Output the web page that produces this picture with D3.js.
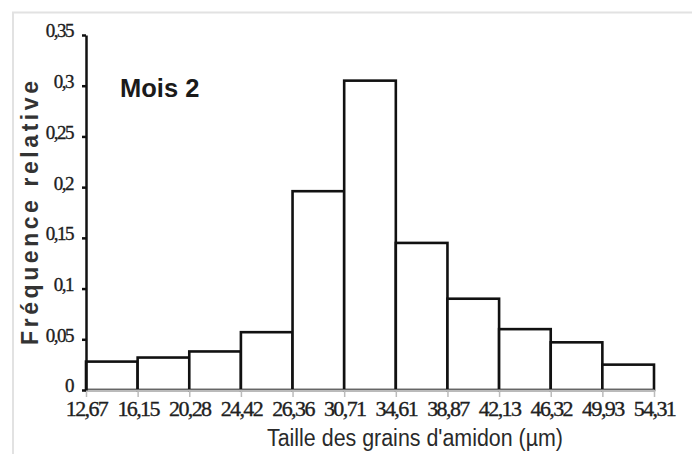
<!DOCTYPE html>
<html>
<head>
<meta charset="utf-8">
<script src="https://cdnjs.cloudflare.com/ajax/libs/d3/7.8.5/d3.min.js"></script>
<style>
  body { margin: 0; background: #fff; }
  .tick text { font-family: "Liberation Serif", "DejaVu Serif", serif; fill: #222; }
</style>
</head>
<body>
<script>
// bin edges (µm) and relative frequency of each bin
const edges = ["12,67", "16,15", "20,28", "24,42", "26,36", "30,71", "34,61", "38,87", "42,13", "46,32", "49,93", "54,31"];
const freq = [0.028, 0.032, 0.038, 0.057, 0.196, 0.305, 0.145, 0.090, 0.060, 0.047, 0.025];
const yTicks = [0, 0.05, 0.1, 0.15, 0.2, 0.25, 0.3, 0.35];

const W = 692, H = 454,
      margin = {top: 35, right: 38, bottom: 64, left: 86},
      width = W - margin.left - margin.right,
      height = H - margin.top - margin.bottom,

      fr = d3.formatLocale({decimal: ",", thousands: " ", grouping: [3], currency: ["", "€"]}),

      svg = d3.select("body")
      .append("svg")
      .attr("width", W)
      .attr("height", H),

      xScale = d3.scaleLinear().domain([0, edges.length - 1]).range([margin.left, margin.left + width]),
      yScale = d3.scaleLinear().domain([0, 0.35]).range([margin.top + height, margin.top]);

// faint frame of the original picture
svg.append("path")
  .attr("d", "M13,454V12.5H692")
  .attr("fill", "none")
  .attr("stroke", "#e2e2e2")
  .attr("stroke-width", 2);

svg.selectAll("rect.bar")
  .data(freq).enter()
  .append("rect")
  .attr("class", "bar")
  .attr("x", (d, i) => xScale(i))
  .attr("y", (d) => yScale(d))
  .attr("width", (d, i) => xScale(i + 1) - xScale(i))
  .attr("height", (d) => yScale(0) - yScale(d))
  .attr("fill", "#fff")
  .attr("stroke", "#111")
  .attr("stroke-width", 2.6);

const xAxis = d3.axisBottom(xScale)
  .tickValues(d3.range(edges.length))
  .tickFormat((i) => edges[i])
  .tickSizeInner(7)
  .tickSizeOuter(0)
  .tickPadding(3);

const gx = svg.append("g")
  .attr("transform", "translate(0," + yScale(0) + ")")
  .call(xAxis);
gx.select(".domain").attr("stroke", "#bbb").attr("stroke-width", 2);
gx.selectAll(".tick line").attr("stroke", "#bbb").attr("stroke-width", 1.5);
gx.selectAll(".tick text")
  .attr("font-size", 22)
  .attr("letter-spacing", "-1.6px")
  .attr("fill", "#1a1a1a")
  .attr("stroke", "#1a1a1a")
  .attr("stroke-width", 0.35);

const yAxis = d3.axisLeft(yScale)
  .tickValues(yTicks)
  .tickFormat((v) => v === 0 ? "0" : fr.format("~g")(v))
  .tickSizeInner(4)
  .tickSizeOuter(0)
  .tickPadding(9);

const gy = svg.append("g")
  .attr("transform", "translate(" + margin.left + ",0)")
  .call(yAxis);
gy.select(".domain").attr("stroke", "#111").attr("stroke-width", 2.5);
gy.selectAll(".tick line").attr("stroke", "#111").attr("stroke-width", 2.5);
gy.selectAll(".tick text")
  .attr("font-size", 19)
  .attr("letter-spacing", "-1.5px")
  .attr("dy", "0.1em")
  .attr("fill", "#1a1a1a")
  .attr("stroke", "#1a1a1a")
  .attr("stroke-width", 0.35);

svg.append("text")
  .attr("x", 415)
  .attr("y", 446)
  .attr("text-anchor", "middle")
  .attr("font-family", "'Liberation Sans Narrow', 'Liberation Sans', Arial, sans-serif")
  .attr("font-size", 23)
  .attr("fill", "#2a2a2a")
  .attr("textLength", 296)
  .attr("lengthAdjust", "spacingAndGlyphs")
  .text("Taille des grains d'amidon (µm)");

svg.append("text")
  .attr("transform", "translate(38,213) rotate(-90)")
  .attr("text-anchor", "middle")
  .attr("font-family", "'Liberation Sans', Arial, sans-serif")
  .attr("font-weight", "bold")
  .attr("font-size", 23)
  .attr("fill", "#333")
  .attr("textLength", 264)
  .attr("lengthAdjust", "spacing")
  .text("Fréquence relative");

svg.append("text")
  .attr("x", 120)
  .attr("y", 97)
  .attr("font-family", "'Liberation Sans', Arial, sans-serif")
  .attr("font-weight", "bold")
  .attr("font-size", 25.5)
  .attr("fill", "#1a1a1a")
  .text("Mois 2");
</script>
</body>
</html>
